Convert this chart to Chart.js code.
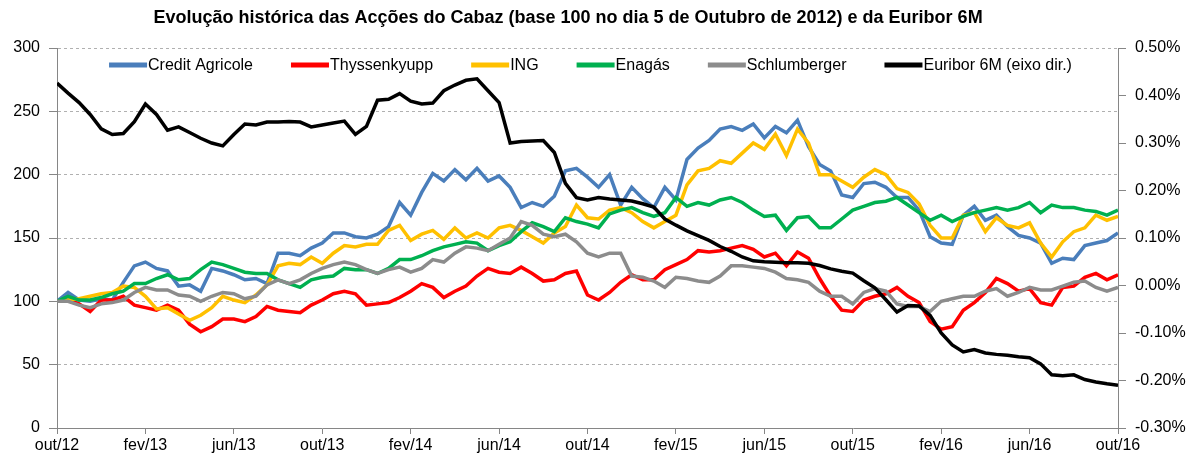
<!DOCTYPE html>
<html>
<head>
<meta charset="utf-8">
<script src="https://cdn.jsdelivr.net/npm/chart.js@4.4.1/dist/chart.umd.min.js"></script>
<style>
  html, body { margin: 0; padding: 0; background: #fff; }
  #wrap { width: 1192px; height: 457px; position: relative; }
</style>
</head>
<body>
<div id="wrap"><canvas id="chart"></canvas></div>
<script>
const chartTitle = 'Evolução histórica das Acções do Cabaz (base 100 no dia 5 de Outubro de 2012) e da Euribor 6M';
// x tick labels, one every 4 months (points below are every half month from 5 Oct 2012)
const xTickLabels = ['out/12', 'fev/13', 'jun/13', 'out/13', 'fev/14', 'jun/14', 'out/14',
    'fev/15', 'jun/15', 'out/15', 'fev/16', 'jun/16', 'out/16'];
const seriesNames = ['Credit Agricole', 'Thyssenkyupp', 'ING', 'Enagás', 'Schlumberger', 'Euribor 6M (eixo dir.)'];

const creditAgricole = [100,107,101,100,102,101,115,128,131,126,
    124,112,113,108,126,124,121,117,118,114,
    138,138,136,142,146,154,154,151,150,153,
    159,178,168,186,201,195,204,196,205,195,
    199,190,174,178,175,183,203,205,198,190,
    200,176,190,181,174,190,180,212,221,227,
    236,238,235,240,229,238,233,243,222,208,
    203,184,182,193,194,190,182,182,172,151,
    146,145,168,175,164,168,159,152,150,146,
    130,134,133,144,146,148,154];
const thyssenkrupp = [100,101,98,92,101,101,104,97,95,93,
    97,93,82,76,80,86,86,84,88,96,
    93,92,91,97,101,106,108,106,97,98,
    99,103,108,114,111,103,108,112,120,126,
    123,122,127,122,116,117,122,124,105,101,
    107,115,121,117,117,125,129,133,140,139,
    140,142,144,141,135,138,128,139,134,118,
    104,93,92,101,104,106,111,104,99,84,
    78,80,93,99,107,118,114,108,110,99,
    97,111,112,119,122,117,121];
const ing = [100,101,102,104,106,107,112,111,104,94,
    95,90,85,89,95,104,101,99,105,113,
    128,130,129,135,130,138,144,143,145,145,
    156,160,148,153,156,149,158,150,154,150,
    158,160,156,151,146,154,159,176,166,165,
    172,174,170,163,158,163,168,192,203,205,
    211,209,217,225,220,232,215,236,225,200,
    200,195,190,198,204,200,189,186,177,160,
    150,150,168,170,155,166,160,158,162,146,
    135,147,155,158,168,164,167];
const enagas = [100,104,101,101,103,106,108,114,114,118,
    121,117,118,125,131,129,126,123,122,122,
    117,114,111,117,119,120,126,125,125,122,
    126,133,133,136,140,143,145,147,146,140,
    144,147,155,162,159,155,166,163,161,158,
    169,172,174,170,167,170,182,175,178,176,
    180,182,178,172,167,168,156,166,167,158,
    158,165,172,175,178,179,182,176,170,164,
    168,163,167,170,172,174,172,174,178,170,
    176,174,174,172,171,168,172];
const schlumberger = [100,100,97,95,98,99,101,107,111,109,
    109,105,104,100,104,107,106,102,104,113,
    117,114,117,122,126,129,131,129,125,122,
    125,127,123,126,133,131,138,143,142,140,
    145,150,163,160,153,151,153,147,138,135,
    138,138,120,119,116,111,119,118,116,115,
    120,128,128,127,126,123,118,117,115,108,
    104,104,98,107,110,108,98,96,96,92,
    100,102,104,104,108,110,104,107,111,109,
    109,112,115,116,111,108,111];
// Euribor 6M in %
const euribor6m = [0.426,0.405,0.385,0.36,0.33,0.318,0.32,0.345,0.382,0.36,
    0.327,0.334,0.322,0.31,0.30,0.294,0.318,0.34,0.338,0.344,
    0.344,0.345,0.344,0.334,0.338,0.342,0.346,0.318,0.335,0.39,
    0.392,0.404,0.388,0.382,0.384,0.41,0.422,0.432,0.435,0.41,
    0.385,0.30,0.303,0.304,0.305,0.28,0.215,0.185,0.18,0.185,
    0.182,0.18,0.178,0.172,0.165,0.14,0.127,0.115,0.105,0.095,
    0.082,0.072,0.06,0.052,0.05,0.049,0.048,0.048,0.047,0.042,
    0.035,0.03,0.026,0.01,-0.005,-0.03,-0.056,-0.042,-0.043,-0.063,
    -0.1,-0.125,-0.14,-0.135,-0.142,-0.145,-0.147,-0.15,-0.152,-0.165,
    -0.188,-0.19,-0.188,-0.198,-0.203,-0.207,-0.21];

const FONT = '"Liberation Sans", Arial, sans-serif';
const toPoints = (arr) => arr.map((v, i) => ({ x: i, y: v }));

const line = (label, data, color, axis, order) => ({
    label: label,
    data: toPoints(data),
    borderColor: color,
    backgroundColor: color,
    borderWidth: 3.5,
    pointRadius: 0,
    tension: 0,
    yAxisID: axis,
    order: order
});

// title and legend drawn inside the plot area, like the original
const overlay = {
    id: 'overlay',
    afterDraw(chart) {
        const { ctx, chartArea } = chart;
        ctx.save();
        ctx.fillStyle = '#000';
        ctx.font = 'bold 18px ' + FONT;
        ctx.textAlign = 'center';
        ctx.textBaseline = 'middle';
        ctx.fillText(chartTitle, 568, 18);

        ctx.font = '16px ' + FONT;
        ctx.textAlign = 'left';
        const lineLen = 38, gap = 1, spacing = 38;
        const items = chart.data.datasets.map(d => ({
            label: d.label, color: d.borderColor, w: ctx.measureText(d.label).width
        }));
        const total = items.reduce((s, it) => s + lineLen + gap + it.w, 0) + spacing * (items.length - 1);
        let x = (chartArea.left + chartArea.right) / 2 + 3 - total / 2;
        const y = chartArea.top + 17;
        items.forEach(it => {
            ctx.strokeStyle = it.color;
            ctx.lineWidth = 5;
            ctx.beginPath();
            ctx.moveTo(x, y);
            ctx.lineTo(x + lineLen, y);
            ctx.stroke();
            x += lineLen + gap;
            ctx.fillText(it.label, x, y + 1);
            x += it.w + spacing;
        });
        ctx.restore();
    }
};

new Chart(document.getElementById('chart'), {
    type: 'line',
    data: {
        datasets: [
            line(seriesNames[0], creditAgricole, '#4a7ebb', 'y', 5),
            line(seriesNames[1], thyssenkrupp, '#ff0000', 'y', 4),
            line(seriesNames[2], ing, '#ffc000', 'y', 3),
            line(seriesNames[3], enagas, '#00b050', 'y', 2),
            line(seriesNames[4], schlumberger, '#8c8c8c', 'y', 1),
            line(seriesNames[5], euribor6m, '#000000', 'y1', 0)
        ]
    },
    options: {
        responsive: true,
        maintainAspectRatio: false,
        animation: false,
        devicePixelRatio: 1,
        layout: { padding: { top: 48, left: 0, right: 0, bottom: 0 } },
        plugins: {
            legend: { display: false },
            title: { display: false },
            tooltip: { enabled: false }
        },
        scales: {
            x: {
                type: 'linear',
                min: 0,
                max: 96,
                ticks: {
                    stepSize: 8,
                    autoSkip: false,
                    maxRotation: 0,
                    padding: 2,
                    color: '#000',
                    font: { family: FONT, size: 16 },
                    callback: (v) => xTickLabels[v / 8]
                },
                grid: { drawOnChartArea: false, tickLength: 6, color: '#868686' },
                border: { color: '#868686', width: 1 },
                afterFit: (s) => { s.height = 29; }
            },
            y: {
                position: 'left',
                min: 0,
                max: 300,
                ticks: {
                    stepSize: 50,
                    padding: 9,
                    color: '#000',
                    font: { family: FONT, size: 16 }
                },
                grid: {
                    color: (c) => c.tick && c.tick.value === 0 ? 'rgba(0,0,0,0)' : '#b0b0b0',
                    tickColor: '#868686',
                    tickLength: 8
                },
                border: { color: '#868686', width: 1, dash: [3, 3] },
                afterFit: (s) => { s.width = 57; }
            },
            y1: {
                position: 'right',
                min: -0.3,
                max: 0.5,
                ticks: {
                    stepSize: 0.1,
                    padding: 9,
                    color: '#000',
                    font: { family: FONT, size: 16 },
                    callback: (v) => (Math.abs(v) < 1e-9 ? 0 : v).toFixed(2) + '%'
                },
                grid: { drawOnChartArea: false, tickColor: '#868686', tickLength: 8 },
                border: { color: '#868686', width: 1 },
                afterFit: (s) => { s.width = 74; }
            }
        }
    },
    plugins: [overlay]
});
</script>
</body>
</html>
